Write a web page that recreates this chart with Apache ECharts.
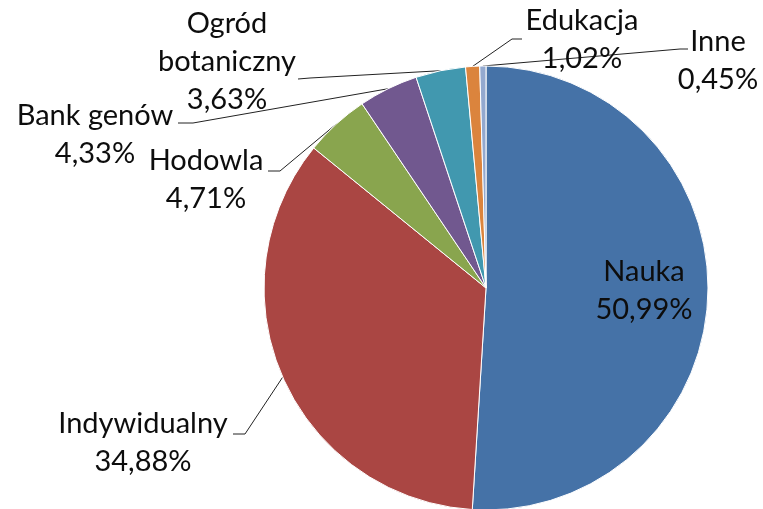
<!DOCTYPE html>
<html>
<head>
<meta charset="utf-8">
<script src="https://cdn.jsdelivr.net/npm/echarts@6/dist/echarts.min.js"></script>
<style>
html,body{margin:0;padding:0;background:#fff;}
#chart{width:763px;height:509px;}
</style>
</head>
<body>
<div id="chart"></div>
<script>
const categories = ['Nauka', 'Indywidualny', 'Hodowla', 'Bank genów', 'Ogród botaniczny', 'Edukacja', 'Inne'];
const labelTexts = ['Nauka', 'Indywidualny', 'Hodowla', 'Bank genów', 'Ogród\nbotaniczny', 'Edukacja', 'Inne'];
const values = [50.99, 34.88, 4.71, 4.33, 3.63, 1.02, 0.45];

// layout (positions of label blocks and leader-line elbows), kept apart from data
const palette = ['#4572A7', '#AA4643', '#89A54E', '#71588F', '#4198AF', '#DB843D', '#93A9CF'];
const labelPlace = [
  { x: 644, y: 291 },
  { x: 143, y: 443, line: [[245, 434], [233, 434]] },
  { x: 206, y: 180, line: [[280, 171], [268, 171]] },
  { x: 95,  y: 135, line: [[193, 123], [178, 123]] },
  { x: 227, y: 62,  line: [[310, 78], [298, 79]] },
  { x: 582, y: 40,  line: [[512, 39], [522, 39]] },
  { x: 718, y: 61,  line: [[680, 49], [688, 49]] }
];

const fmt = v => v.toFixed(2).replace('.', ',') + '%';

const data = categories.map((c, i) => ({
  name: c,
  value: values[i],
  label: { position: i === 0 ? 'inside' : 'outside' },
  labelLine: { show: i !== 0 }
}));

const chart = echarts.init(document.getElementById('chart'), null, { renderer: 'canvas' });
chart.setOption({
  animation: false,
  color: palette,
  series: [{
    type: 'pie',
    center: [486, 288],
    radius: 222,
    startAngle: 90,
    clockwise: true,
    avoidLabelOverlap: false,
    minShowLabelAngle: 0,
    itemStyle: { borderColor: '#ffffff', borderWidth: 1 },
    emphasis: { disabled: true },
    label: {
      show: true,
      color: '#0d0d0d',
      fontFamily: 'Lato',
      fontSize: 29,
      lineHeight: 38,
      align: 'center',
      formatter: p => labelTexts[p.dataIndex] + '\n' + fmt(p.value)
    },
    labelLine: {
      show: true,
      length: 20,
      length2: 10,
      lineStyle: { color: '#222', width: 1 }
    },
    labelLayout: function (params) {
      const p = labelPlace[params.dataIndex];
      const res = { x: p.x, y: p.y, align: 'center', verticalAlign: 'middle', hideOverlap: false, moveOverlap: false };
      if (p.line && params.labelLinePoints) {
        res.labelLinePoints = [params.labelLinePoints[0]].concat(p.line);
      }
      return res;
    },
    data: data
  }]
});
</script>
</body>
</html>
